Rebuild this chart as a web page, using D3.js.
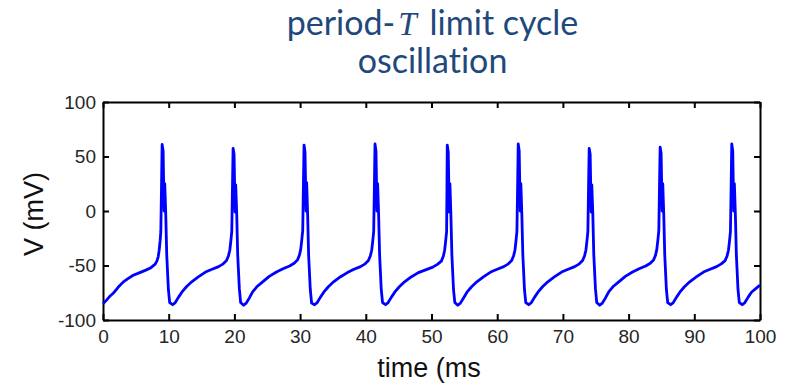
<!DOCTYPE html>
<html>
<head>
<meta charset="utf-8">
<script src="https://cdn.jsdelivr.net/npm/d3@7"></script>
<style>
  body { margin: 0; background: #fff; }
  svg { display: block; }
  .tick text { font-family: "Liberation Sans", Arial, sans-serif; font-size: 19px; fill: #262626; }
  .axis path, .axis line { stroke: #000; stroke-width: 2; }
</style>
</head>
<body>
<svg id="chart" width="786" height="383"></svg>
<script>
// membrane potential trace, one line per spike cycle
const time = [
  0, 0.5, 1.0, 1.55, 2.3, 3.1, 3.8, 4.6, 5.6, 6.6, 7.3, 7.9, 8.2, 8.4, 8.55, 8.7, 8.8, 8.9, 9.0,
  9.15, 9.3, 9.4, 9.55, 9.7, 9.95, 10.15, 10.6, 11.0, 11.5, 12.0, 12.7, 13.5, 14.5, 15.6, 16.6, 17.6, 18.3, 18.8, 19.1, 19.3, 19.45, 19.6, 19.7, 19.8,
  19.95, 20.1, 20.2, 20.35, 20.5, 20.75, 20.95, 21.4, 21.8, 22.3, 22.8, 23.5, 24.3, 25.3, 26.4, 27.4, 28.4, 29.1, 29.6, 29.9, 30.1, 30.25, 30.4, 30.5, 30.6,
  30.75, 30.9, 31.0, 31.15, 31.3, 31.55, 31.75, 32.2, 32.6, 33.1, 33.6, 34.3, 35.1, 36.1, 37.2, 38.2, 39.2, 39.9, 40.4, 40.7, 40.9, 41.05, 41.2, 41.3, 41.4,
  41.55, 41.7, 41.8, 41.95, 42.1, 42.35, 42.55, 43.0, 43.4, 43.9, 44.4, 45.1, 45.9, 46.9, 48.0, 49.1, 50.2, 50.9, 51.5, 51.8, 52.0, 52.15, 52.3, 52.35, 52.4,
  52.55, 52.7, 52.8, 52.95, 53.1, 53.35, 53.55, 54.0, 54.4, 54.9, 55.4, 56.1, 56.9, 57.9, 59.0, 60.0, 61.0, 61.7, 62.2, 62.5, 62.7, 62.85, 63.0, 63.1, 63.2,
  63.35, 63.5, 63.6, 63.75, 63.9, 64.15, 64.35, 64.8, 65.2, 65.7, 66.2, 66.9, 67.7, 68.7, 69.8, 70.8, 71.8, 72.5, 73.0, 73.3, 73.5, 73.65, 73.8, 73.9, 74.0,
  74.15, 74.3, 74.4, 74.55, 74.7, 74.95, 75.15, 75.6, 76.0, 76.5, 77.0, 77.7, 78.5, 79.5, 80.6, 81.6, 82.6, 83.3, 83.8, 84.1, 84.3, 84.45, 84.6, 84.7, 84.8,
  84.95, 85.1, 85.2, 85.35, 85.5, 85.75, 85.95, 86.4, 86.8, 87.3, 87.8, 88.5, 89.3, 90.3, 91.4, 92.4, 93.4, 94.1, 94.7, 95.0, 95.2, 95.35, 95.5, 95.6, 95.7,
  95.85, 96.0, 96.1, 96.25, 96.4, 96.65, 96.85, 97.3, 97.7, 98.2, 98.7, 99.4, 100
];
const voltage = [
  -85, -82, -78.5, -75.5, -70, -65, -62, -59, -56.5, -54, -52, -49, -46, -42, -36, -27, -19, 20, 61,
  55, 0, 25, -3, -40, -72, -84, -86, -84, -79, -74.5, -69.5, -65, -60.5, -56, -53.5, -51, -48.5, -45.5, -41, -36, -28, -19, 20, 57.5,
  52, -1, 24, -2, -40, -71, -84, -86.5, -84.5, -79.5, -74, -69, -65, -60, -56, -53, -50.5, -48, -45, -40.5, -35, -27, -18, 22, 60.5,
  54, 0, 26, -4, -41, -72, -84.5, -86, -84, -79, -74.5, -69.5, -65, -60.5, -56.5, -53.5, -51, -48.5, -45.5, -41, -36, -28, -19, 20, 61.5,
  55, 0, 25, -3, -40, -72, -84, -86, -84, -79, -74.5, -69.5, -65, -60.5, -56.5, -54, -51.5, -49, -46, -41.5, -36, -28, -19, 20, 60.5,
  54, -1, 25, -3, -40, -72, -84, -86.5, -84.5, -79.5, -74.5, -69.5, -65, -60.5, -56, -53.5, -51, -48.5, -45.5, -41, -36, -28, -19, 20, 61.5,
  55, 0, 25, -3, -40, -72, -84, -86, -84, -79, -74.5, -69.5, -65, -60.5, -56, -53.5, -51, -48.5, -45.5, -41, -36, -28, -19, 20, 57.5,
  52, -1, 24, -2, -40, -71, -84, -86.5, -84.5, -79.5, -74, -69, -65, -60, -56, -53, -50.5, -48, -45, -40.5, -35, -27, -18, 22, 58.5,
  53, 0, 25, -3, -40, -72, -84, -86, -84, -79, -74.5, -69.5, -65, -60.5, -56, -53.5, -51, -48.5, -45.5, -41, -36, -28, -19, 20, 61.5,
  55, 0, 25, -3, -40, -72, -84, -86, -84, -79, -74.5, -71, -68
];

const xTicks = [0, 10, 20, 30, 40, 50, 60, 70, 80, 90, 100];
const yTicks = [-100, -50, 0, 50, 100];

const svg = d3.select('#chart');

// plot box
const box = { left: 103, right: 760, top: 102, bottom: 320 };

const x = d3.scaleLinear().domain([0, 100]).range([box.left, box.right]);
const y = d3.scaleLinear().domain([-100, 100]).range([box.bottom, box.top]);

// plain hyphen minus, like the original
const fmt = d => String(d);

// title: three pieces laid side by side, centred as a whole
const title = svg.append('g')
    .attr('fill', '#1f497d')
    .attr('font-family', 'Lato, "Open Sans", sans-serif')
    .attr('font-size', 34)
    .style('font-variant-ligatures', 'none');

const t1 = title.append('text').attr('y', 35).text('period-');
const t2 = title.append('text').attr('y', 35)
    .attr('font-family', '"Liberation Serif", "DejaVu Serif", serif')
    .attr('font-style', 'italic')
    .attr('font-size', 33)
    .text('T');
const t3 = title.append('text').attr('y', 35).text('limit cycle');

const w1 = t1.node().getComputedTextLength();
const w2 = t2.node().getComputedTextLength();
const w3 = t3.node().getComputedTextLength();
const gapA = 3, gapB = 13;
const x0 = 432.5 - (w1 + gapA + w2 + gapB + w3) / 2;
t1.attr('x', x0);
t2.attr('x', x0 + w1 + gapA);
t3.attr('x', x0 + w1 + gapA + w2 + gapB);

title.append('text')
    .attr('x', 432.5)
    .attr('y', 73)
    .attr('text-anchor', 'middle')
    .text('oscillation');

// axes, ticks pointing inward on all four sides
svg.append('g')
    .attr('class', 'axis')
    .attr('transform', `translate(0,${box.bottom})`)
    .call(d3.axisBottom(x).tickValues(xTicks).tickFormat(fmt).tickSizeInner(-6).tickSizeOuter(0).tickPadding(10));

svg.append('g')
    .attr('class', 'axis')
    .attr('transform', `translate(0,${box.top})`)
    .call(d3.axisTop(x).tickValues(xTicks).tickSizeInner(-6).tickSizeOuter(0).tickFormat(''));

svg.append('g')
    .attr('class', 'axis')
    .attr('transform', `translate(${box.left},0)`)
    .call(d3.axisLeft(y).tickValues(yTicks).tickFormat(fmt).tickSizeInner(-6).tickSizeOuter(0).tickPadding(7));

svg.append('g')
    .attr('class', 'axis')
    .attr('transform', `translate(${box.right},0)`)
    .call(d3.axisRight(y).tickValues(yTicks).tickSizeInner(-6).tickSizeOuter(0).tickFormat(''));

svg.selectAll('.axis').attr('font-family', null).attr('font-size', null);
svg.selectAll('.axis .tick text').attr('fill', null);

// axis labels
svg.append('text')
    .attr('transform', 'translate(43,214) rotate(-90)')
    .attr('text-anchor', 'middle')
    .attr('font-family', '"Liberation Sans", Arial, sans-serif')
    .attr('font-size', 27)
    .attr('fill', '#111')
    .text('V (mV)');

svg.append('text')
    .attr('x', 429)
    .attr('y', 377)
    .attr('text-anchor', 'middle')
    .attr('font-family', '"Liberation Sans", Arial, sans-serif')
    .attr('font-size', 27)
    .attr('fill', '#111')
    .text('time (ms');

// voltage trace
const points = time.map((t, i) => [t, voltage[i]]);

const line = d3.line()
    .x(d => x(d[0]))
    .y(d => y(d[1]));

svg.append('path')
    .datum(points)
    .attr('fill', 'none')
    .attr('stroke', '#0000ff')
    .attr('stroke-width', 2.8)
    .attr('stroke-linejoin', 'round')
    .attr('d', line);
</script>
</body>
</html>
